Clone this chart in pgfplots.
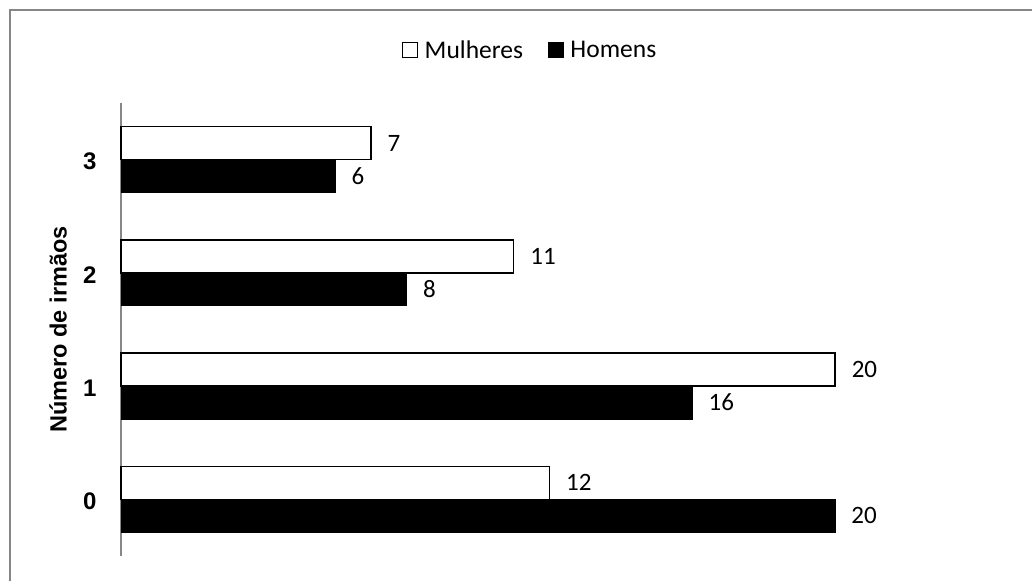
\documentclass[border=0pt]{standalone}
\usepackage{pgfplots}
\pgfplotsset{compat=1.18}
\usepackage{fontspec}
\setmainfont{Carlito}
\newfontfamily\arial{Liberation Sans}
\begin{document}
\begin{tikzpicture}[x=1pt,y=1pt]
\path[use as bounding box] (0,0) rectangle (1032,581);
\draw[color=black!47, line width=1.2pt] (10,0) -- (10,571) -- (1032,571);
\begin{axis}[
  at={(121pt,25pt)}, anchor=south west,
  scale only axis, width=714pt, height=453pt,
  xbar, bar width=33pt,
  xmin=0, xmax=20, ymin=-0.5, ymax=3.5,
  enlargelimits=false, clip=false,
  /pgf/number format/assume math mode=true,
  axis x line=none, axis y line=left,
  axis line style={-, draw=black!47, line width=1.3pt},
  ytick={0,1,2,3}, xtick=\empty,
  yticklabels={0,1,2,3},
  major tick length=0pt,
  yticklabel style={font=\arial\bfseries\fontsize{24}{26}\selectfont, anchor=east, xshift=-21pt, yshift=-2pt, line width=0.6pt},
  ylabel={Número de irmãos},
  ylabel style={at={(axis description cs:-0.088,0.5)}, anchor=center, font=\arial\bfseries\fontsize{23.5}{26}\selectfont},
  nodes near coords,
  nodes near coords style={font=\fontsize{25}{28}\selectfont, anchor=west, inner sep=0pt, xshift=16pt},
  legend style={at={(0.573,1.117)}, anchor=center, draw=none, legend columns=2,
     font=\fontsize{25.5}{28}\selectfont,
     /tikz/every even column/.append style={column sep=23pt}},
  legend image code/.code={\draw[#1] (0pt,-7.5pt) rectangle (15pt,7.5pt); \path[draw=none,fill=none] (0pt,0pt) -- (20pt,0pt);},
]
\addplot[fill=white, draw=black, line width=1.5pt, bar shift=16.5pt] coordinates {(12,0) (20,1) (11,2) (7,3)};
\addlegendentry{Mulheres}
\addplot[fill=black, draw=black, line width=0.8pt, bar shift=-16.5pt] coordinates {(20,0) (16,1) (8,2) (6,3)};
\addlegendentry{Homens}
\end{axis}
\end{tikzpicture}
\end{document}
